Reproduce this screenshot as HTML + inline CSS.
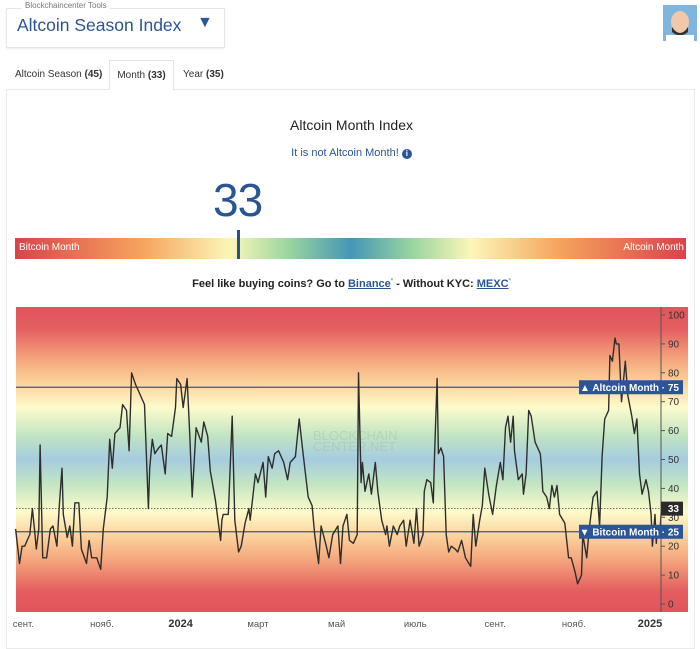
<!DOCTYPE html>
<html><head><meta charset="utf-8"><style>
body{margin:0;width:700px;height:636px;background:#fff;font-family:"Liberation Sans",sans-serif;position:relative;overflow:hidden}
.abs{position:absolute}
</style></head><body>
<div class="abs" style="left:6px;top:8px;width:217px;height:38px;border:1px solid #e6e6e6;box-shadow:0 1px 2px #eee"></div>
<div class="abs" style="left:22px;top:1px;padding:0 3px;background:#fff;font-size:8px;color:#777">Blockchaincenter Tools</div>
<div class="abs" style="left:17px;top:15px;font-size:17.5px;color:#2a5595">Altcoin Season Index</div>
<div class="abs" style="left:197px;top:14px;font-size:16px;color:#2a5595">▼</div>
<svg class="abs" style="left:663px;top:5px" width="34" height="36"><rect width="34" height="36" fill="#7fb6e0"/><ellipse cx="17" cy="17" rx="9" ry="11" fill="#f2c9a8"/><path d="M9 22 Q17 34 25 22 L25 27 Q17 34 9 27Z" fill="#333"/><rect x="3" y="30" width="28" height="6" fill="#fff"/></svg>

<div class="abs" style="left:15px;top:69px;font-size:10px;color:#333">Altcoin Season <b>(45)</b></div>
<div class="abs" style="left:109px;top:60px;width:65px;height:30px;border:1px solid #e3e3e3;border-bottom:none;background:#fff;z-index:2;box-sizing:border-box;font-size:10px;color:#333;text-align:center;line-height:30px">Month <b>(33)</b></div>
<div class="abs" style="left:183px;top:69px;font-size:10px;color:#333">Year <b>(35)</b></div>
<div class="abs" style="left:6px;top:89px;width:689px;height:560px;border:1px solid #eaeaea;box-sizing:border-box"></div>

<div class="abs" style="left:0;width:703px;top:117px;text-align:center;font-size:14px;color:#222">Altcoin Month Index</div>
<div class="abs" style="left:0;width:703px;top:147px;text-align:center;font-size:11px;color:#2a5595">It is not Altcoin Month! <span style="display:inline-block;width:10px;height:10px;border-radius:50%;background:#2a5595;color:#fff;font-size:8px;line-height:10px;font-weight:bold">i</span></div>
<div class="abs" style="left:213px;top:173px;font-size:46px;color:#2a5595;letter-spacing:-1px">33</div>
<div class="abs" style="left:15px;top:238px;width:671px;height:21px;background:linear-gradient(90deg,#d9434b 0%,#f6a45e 19%,#fbf7b8 32%,#98d4a0 41%,#4596b4 50%,#98d4a0 59%,#fbf7b8 68%,#f6a45e 81%,#d9434b 100%)"></div>
<div class="abs" style="left:19px;top:242px;font-size:10px;color:#fff">Bitcoin Month</div>
<div class="abs" style="right:16px;top:242px;font-size:10px;color:#fff">Altcoin Month</div>
<div class="abs" style="left:237px;top:230px;width:3px;height:29px;background:#2a4f8a"></div>
<div class="abs" style="left:0;width:703px;top:278px;text-align:center;font-size:11px;font-weight:bold;color:#222">Feel like buying coins? Go to <a style="color:#2a5595;text-decoration:underline">Binance</a><sup style="color:#6ab;font-size:6px">*</sup> - Without KYC: <a style="color:#2a5595;text-decoration:underline">MEXC</a><sup style="color:#6ab;font-size:6px">*</sup></div>

<svg class="abs" id="chart" style="left:0;top:300px" width="700" height="336">
<defs><linearGradient id="bg" x1="0" y1="0" x2="0" y2="1">
<stop offset="0" stop-color="#e0555c"/><stop offset="0.07" stop-color="#e35e60"/><stop offset="0.17" stop-color="#f4a57c"/><stop offset="0.25" stop-color="#fcd39c"/><stop offset="0.33" stop-color="#fdfbcc"/><stop offset="0.42" stop-color="#c2e5c2"/><stop offset="0.5" stop-color="#a6cce0"/><stop offset="0.58" stop-color="#c2e5c2"/><stop offset="0.67" stop-color="#fdfbcc"/><stop offset="0.75" stop-color="#fcd39c"/><stop offset="0.83" stop-color="#f4a57c"/><stop offset="0.93" stop-color="#e35e60"/><stop offset="1" stop-color="#e0555c"/></linearGradient></defs>
<rect x="16" y="7" width="672" height="305" fill="url(#bg)"/>
<text x="313" y="140" font-size="13" fill="#9aa" fill-opacity="0.3" font-family="Liberation Sans">BLOCKCHAIN</text>
<text x="313" y="151" font-size="13" fill="#9aa" fill-opacity="0.3" font-family="Liberation Sans">CENTER.NET</text>
<g id="layer"></g>
</svg>
<script>
const dayOffsets=[-67,-64,-62,-60,-58,-56,-54,-52,-51,-49,-48,-46,-43,-40,-38,-35,-33,-31,-30,-27,-25,-23,-21,-18,-16,-12,-10,-8,-4,-1,1,4,6,8,10,14,16,19,21,23,26,29,33,36,37,39,41,44,46,49,51,54,57,58,61,63,66,68,70,73,77,79,82,84,88,90,92,93,94,98,101,103,106,108,111,114,115,119,121,125,127,129,132,134,137,141,144,146,150,153,156,160,163,165,168,170,174,176,179,183,185,187,190,192,195,198,199,201,202,204,207,209,212,214,217,220,221,223,226,229,231,234,236,239,242,244,246,249,250,252,255,257,258,260,261,263,265,267,269,271,274,276,279,282,286,288,290,293,295,297,300,303,306,309,311,313,315,317,319,320,323,326,327,329,331,333,336,340,341,342,345,347,349,351,353,355,359,362,364,367,369,372,373,376,378,381,384,386,388,390,393,394,396,398,399,401,403,406,408,411,413,415,417,419,422,424,426,427,429,430,431,433,434];
const indexValues=[26,14,20,20,22,24,33,24,19,26,55,16,16,26,27,20,35,47,31,23,27,20,35,35,19,14,22,16,16,12,26,37,57,47,59,61,69,67,53,80,76,73,69,33,47,57,52,54,55,45,59,58,68,78,76,68,78,59,37,61,56,63,58,46,36,29,22,29,31,31,65,29,18,20,28,33,29,45,42,49,37,51,47,52,53,49,43,49,51,64,52,37,34,24,14,27,20,16,24,27,14,27,31,22,21,24,80,42,49,39,45,38,49,39,29,24,27,20,27,24,27,29,20,29,21,33,20,24,39,43,42,35,52,78,52,54,51,24,18,20,19,18,22,16,13,31,20,29,34,47,38,31,41,49,43,61,65,56,65,53,43,45,38,45,67,65,56,52,47,39,37,33,41,37,41,31,28,16,16,11,7,10,24,16,26,37,39,27,51,64,67,86,84,92,90,90,70,84,72,65,59,64,45,38,43,39,31,20,31,21,27,26,33];
const yTicks=[0,10,20,30,40,50,60,70,80,90,100];
const xTickDays=[-61,0,61,121,182,243,305,366,427];
const xTickLabels=['сент.','нояб.','2024','март','май','июль','сент.','нояб.','2025'];
const thresholds=[75,25];
const currentValue=33;

const NS='http://www.w3.org/2000/svg';
const layer=document.getElementById('layer');
const X0=102,PXD=1.289,LEFT=16,RIGHT=661;
const xs=d=>X0+d*PXD;
const ys=v=>304-v*2.89;
function mk(tag,attrs,parent){const e=document.createElementNS(NS,tag);for(const k in attrs)e.setAttribute(k,attrs[k]);(parent||layer).appendChild(e);return e;}

thresholds.forEach((t,i)=>{
  const l=mk('line',{x1:LEFT,x2:RIGHT,y1:ys(t),y2:ys(t),stroke:'#2d5a9a','stroke-width':1.2});
  
  
});
const cl=mk('line',{x1:LEFT,x2:RIGHT,y1:ys(currentValue),y2:ys(currentValue),stroke:'#444','stroke-width':0.8,'stroke-dasharray':'1.5,1.5'});



let d='';
dayOffsets.forEach((dd,i)=>{d+=(i?'L':'M')+xs(dd).toFixed(1)+','+ys(indexValues[i]).toFixed(1);});
const p=mk('path',{d:d,fill:'none',stroke:'#2e2e2e','stroke-width':1.4,'stroke-linejoin':'round'});



const ax=mk('line',{x1:RIGHT,x2:RIGHT,y1:7,y2:312,stroke:'#555','stroke-width':1});


yTicks.forEach(v=>{
  const tk=mk('line',{x1:RIGHT,x2:RIGHT+4,y1:ys(v),y2:ys(v),stroke:'#555'});
  
  
  const t=mk('text',{x:668,y:ys(v)+3.5,'font-size':10,fill:'#333','font-family':'Liberation Sans'});
  t.textContent=v;
  
  
});
xTickDays.forEach((dd,i)=>{
  const bold=/^\d+$/.test(xTickLabels[i]);
  let x=xs(dd); if(i===xTickLabels.length-1) x=Math.min(x,650);
  const t=mk('text',{x:x,y:327,'font-size':bold?11:9.5,'font-weight':bold?'bold':'normal',fill:bold?'#333':'#555','text-anchor':'middle','font-family':'Liberation Sans'});
  t.textContent=xTickLabels[i];
  
  
});
function badge(v,text,name,x,w,fill){
  const g=mk('g',{});
  
  
  mk('rect',{x:x,y:ys(v)-7,width:w,height:14,fill:fill},g);
  const t=mk('text',{x:x+w-4,y:ys(v)+3.5,'font-size':10,'font-weight':'bold',fill:'#fff','text-anchor':'end','font-family':'Liberation Sans'},g);
  t.textContent=text;
}
badge(thresholds[0],'▲ Altcoin Month · '+thresholds[0],'altcoin-month-badge',579,104,'#2b5597');
badge(thresholds[1],'▼ Bitcoin Month · '+thresholds[1],'bitcoin-month-badge',579,104,'#2b5597');
badge(currentValue,String(currentValue),'current-value-badge',661,22,'#2a2a2a');
</script>
</body></html>
